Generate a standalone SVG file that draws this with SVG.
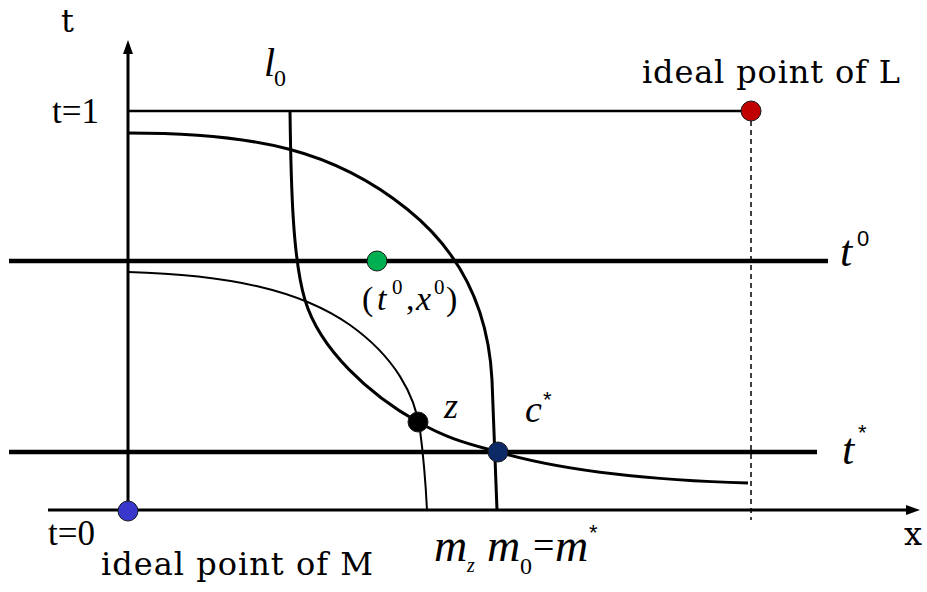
<svg xmlns="http://www.w3.org/2000/svg" width="927" height="592" viewBox="0 0 927 592">
<style>
.ln{stroke:#000;fill:none}
.up{font-family:"DejaVu Serif","Liberation Serif",serif;fill:#000}
.mt{font-family:"Liberation Serif","Times New Roman",serif;fill:#000}
.it{font-style:italic}
.sn{font-family:"Liberation Sans",Arial,sans-serif}
.dot{stroke:#1a1a1a;stroke-width:1}
</style>
<defs>
<marker id="arr" markerUnits="userSpaceOnUse" markerWidth="14" markerHeight="10" refX="0" refY="5" orient="auto" viewBox="0 0 14 10">
<path d="M0,0 L14,5 L0,10 z" fill="#000"/>
</marker>
</defs>
<rect width="927" height="592" fill="#fff"/>
<g id="axes">
<line class="ln" x1="128" y1="512" x2="128" y2="54" stroke-width="3" marker-end="url(#arr)"/>
<line class="ln" x1="48" y1="510" x2="906" y2="510" stroke-width="3" marker-end="url(#arr)"/>
<line class="ln" x1="128" y1="111" x2="742" y2="111" stroke-width="2.5"/>
<line class="ln" x1="9" y1="261" x2="828" y2="261" stroke-width="4.5"/>
<line class="ln" x1="9" y1="452" x2="817" y2="452" stroke-width="4.5"/>
<line class="ln" x1="751" y1="121" x2="751" y2="520" stroke-width="1.5" stroke-dasharray="5 4"/>
</g>
<g id="curves">
<path class="ln" stroke-width="3" d="M128,133 C258,133 335,151 407,209 C467,257 489,320 492,380 L497,510"/>
<path class="ln" stroke-width="3" d="M290,111 C291,190 293,260 305,300 C320,350 370,395 418,422 C450,440 470,444 498,452 C560,470 640,480 748,483"/>
<path class="ln" stroke-width="2" d="M128,272 C230,275 300,290 350,325 C395,357 415,395 420,430 C424,460 426,490 427,510"/>
</g>
<g id="points">
<circle id="pL" class="dot" cx="751" cy="111" r="10" fill="#c00000"/>
<circle id="pt0" class="dot" cx="377" cy="261" r="10" fill="#00b050"/>
<circle id="pz" class="dot" cx="418" cy="422" r="10" fill="#000"/>
<circle id="pc" class="dot" cx="498" cy="452" r="10" fill="#0d2a66"/>
<circle id="pM" class="dot" cx="128" cy="511" r="10" fill="#3838cc"/>
</g>
<g id="labels">
<text class="up" x="61" y="32" font-size="32">t</text>
<text class="mt" x="52" y="123" font-size="35">t=1</text>
<text class="up" x="642" y="83" font-size="32" textLength="258">ideal point of L</text>
<text class="mt" x="48" y="545" font-size="35">t=0</text>
<text class="up" x="101" y="575" font-size="32" textLength="272">ideal point of M</text>
<text class="up" x="904" y="545" font-size="32">x</text>
<text class="mt"><tspan class="it" x="264" y="76" font-size="40">l</tspan><tspan x="274" y="86" font-size="24">0</tspan></text>
<text class="mt"><tspan class="it" x="840" y="266" font-size="44">t</tspan><tspan class="sn" x="857" y="246" font-size="22">0</tspan></text>
<text class="mt"><tspan class="it" x="842" y="464" font-size="44">t</tspan><tspan class="sn" x="858" y="440" font-size="22">*</tspan></text>
<text class="mt" font-size="34"><tspan x="362" y="310">(</tspan><tspan class="it" x="377" y="310">t</tspan><tspan x="392" y="294" font-size="21">0</tspan><tspan x="406" y="310">,</tspan><tspan class="it" x="416" y="310">x</tspan><tspan x="434" y="294" font-size="21">0</tspan><tspan x="446" y="310">)</tspan></text>
<text class="mt it" x="444" y="418" font-size="36">z</text>
<text class="mt"><tspan class="it" x="525" y="422" font-size="38">c</tspan><tspan class="sn" x="543" y="407" font-size="22">*</tspan></text>
<text class="mt" font-size="46"><tspan class="it" x="434" y="561">m</tspan><tspan class="it" x="467" y="572" font-size="20">z</tspan><tspan class="it" x="487" y="561">m</tspan><tspan x="520" y="574" font-size="24">0</tspan><tspan x="533" y="558" font-size="38">=</tspan><tspan class="it" x="555" y="561">m</tspan><tspan class="sn" x="589" y="540" font-size="22">*</tspan></text>
</g>
</svg>
